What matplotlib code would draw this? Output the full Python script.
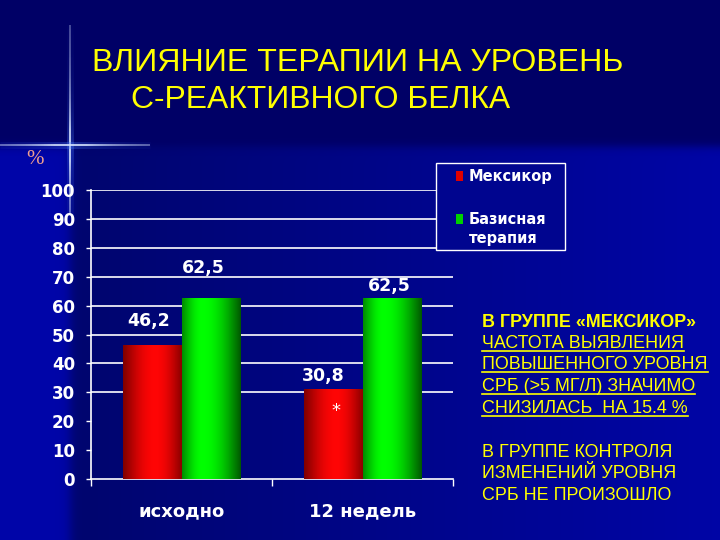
import numpy as np
import matplotlib
matplotlib.use("Agg")
import matplotlib.pyplot as plt
from matplotlib.patches import Rectangle
from matplotlib.collections import LineCollection

# data
categories = ["исходно", "12 недель"]
mexicor = [46.2, 30.8]
basic = [62.5, 62.5]
series_names = ["Мексикор", "Базисная\nтерапия"]
value_labels = [["46,2", "30,8"], ["62,5", "62,5"]]
y_ticks = list(range(0, 101, 10))
grid_values = list(range(30, 101, 10))
star_pos = (0.854, 23.5)

title_lines = ["ВЛИЯНИЕ ТЕРАПИИ НА УРОВЕНЬ", "С-РЕАКТИВНОГО БЕЛКА"]
note_lines = ["В ГРУППЕ «МЕКСИКОР»", "ЧАСТОТА ВЫЯВЛЕНИЯ", "ПОВЫШЕННОГО УРОВНЯ",
              "СРБ (>5 МГ/Л) ЗНАЧИМО", "СНИЗИЛАСЬ  НА 15.4 %", "",
              "В ГРУППЕ КОНТРОЛЯ", "ИЗМЕНЕНИЙ УРОВНЯ", "СРБ НЕ ПРОИЗОШЛО"]

W, H = 720, 540
fig = plt.figure(figsize=(7.2, 5.4), dpi=100)

# ---- background of the slide ----
xx = np.arange(W)[None, :].repeat(H, 0).astype(float)
yy = np.arange(H)[:, None].repeat(W, 1).astype(float)
low = 1 / (1 + np.exp(-(yy - 146) / 2.5))
left = 1 / (1 + np.exp((xx - 70) / 3.0))
b_low = 0.43 + 0.22 * np.clip((xx - 70) / 650, 0, 1)
b_low = b_low * (1 - left) + 0.66 * left
b = 0.40 * (1 - low) + b_low * low
g = 0.02 * low
img = np.dstack([np.zeros_like(b), g, b])

bg = fig.add_axes([0, 0, 1, 1])
bg.imshow(img, extent=[0, W, H, 0], aspect="auto", interpolation="bilinear")
bg.set_xlim(0, W)
bg.set_ylim(H, 0)
bg.axis("off")

# cross-shaped glow
def glow_line(ax, p0, p1, center, spread):
    t = np.linspace(0, 1, 200)
    px = p0[0] + (p1[0] - p0[0]) * t
    py = p0[1] + (p1[1] - p0[1]) * t
    d = np.hypot(px - center[0], py - center[1])
    a = np.exp(-d / spread)
    pts = np.column_stack([px, py]).reshape(-1, 1, 2)
    segs = np.concatenate([pts[:-1], pts[1:]], axis=1)
    wide = LineCollection(segs, colors=[(0.3, 0.5, 1.0, 0.35 * v) for v in a[:-1]], linewidths=5)
    core = LineCollection(segs, colors=[(0.85, 0.9, 1.0, min(1, 0.3 + v)) for v in a[:-1]], linewidths=1.2)
    ax.add_collection(wide)
    ax.add_collection(core)

glow_line(bg, (70, 25), (70, 215), (70, 145), 45)
glow_line(bg, (0, 145), (150, 145), (70, 145), 45)

# ---- chart ----
ax = fig.add_axes([91 / W, 1 - 479 / H, 362 / W, 289 / H])
ax.set_facecolor("none")

x = np.arange(len(categories))
w = 0.325


def gradient_bar(ax, x0, width, height, dark_l, bright, dark_r, peak):
    t = np.linspace(0, 1, 64)
    prof = np.where(t < peak, np.sin(t / peak * np.pi / 2), np.cos((t - peak) / (1 - peak) * np.pi / 2))
    cols = np.empty((1, 64, 3))
    for i in range(64):
        end = dark_l if t[i] < peak else dark_r
        cols[0, i] = np.array(end) + (np.array(bright) - np.array(end)) * prof[i]
    ax.imshow(cols, extent=[x0, x0 + width, 0, height], aspect="auto", zorder=3,
              interpolation="bilinear")


bars_m = ax.bar(x - w / 2, mexicor, w, color="none", zorder=3)
bars_b = ax.bar(x + w / 2, basic, w, color="none", zorder=3)
for r in bars_m:
    gradient_bar(ax, r.get_x(), r.get_width(), r.get_height(),
                 (0.50, 0.0, 0.0), (1.0, 0.02, 0.02), (0.55, 0.0, 0.0), 0.55)
for r in bars_b:
    gradient_bar(ax, r.get_x(), r.get_width(), r.get_height(),
                 (0.0, 0.55, 0.0), (0.0, 1.0, 0.0), (0.0, 0.35, 0.0), 0.35)

ax.hlines(grid_values, -0.5, 1.5, colors="white", linewidth=1.2, zorder=1)

ax.set_xlim(-0.5, 1.5)
ax.set_ylim(0, 100)
ax.set_yticks(y_ticks)
ax.set_yticklabels([str(v) for v in y_ticks])
ax.tick_params(axis="y", colors="white", length=3.6, width=1, pad=8, labelsize=12)
for lab in ax.get_yticklabels():
    lab.set_fontweight("bold")
ax.set_xticks([-0.5, 0.5, 1.5])
ax.set_xticklabels(["", "", ""])
ax.tick_params(axis="x", which="major", colors="white", length=5, width=1)
ax.set_xticks(x, categories, minor=True)
ax.tick_params(axis="x", which="minor", length=0, pad=17, labelsize=13, labelcolor="white")
for lab in ax.get_xticklabels(minor=True):
    lab.set_fontweight("bold")
for s in ["top", "right"]:
    ax.spines[s].set_visible(False)
for s in ["left", "bottom"]:
    ax.spines[s].set_color("white")
    ax.spines[s].set_linewidth(1.2)

# value labels (hand-placed offsets in pixels, as on the slide)
offsets = [[(-3.5, 24), (-10, 14)], [(-8, 30), (-3, 12)]]
for si, bars in enumerate([bars_m, bars_b]):
    for bi, r in enumerate(bars):
        dx, dy = offsets[si][bi]
        ax.annotate(value_labels[si][bi], (r.get_x() + r.get_width() / 2, r.get_height()),
                    xytext=(dx * 0.72, dy * 0.72), textcoords="offset points",
                    ha="center", va="center", color="white", fontsize=12.5,
                    fontweight="bold", zorder=5)
ax.text(star_pos[0], star_pos[1], "*", color="white", fontsize=13, ha="center",
        va="center", zorder=5)

# ---- overlay: title, legend, notes ----
top = fig.add_axes([0, 0, 1, 1], zorder=5)
top.set_facecolor("none")
top.set_xlim(0, W)
top.set_ylim(H, 0)
top.axis("off")

t1 = top.text(92, 63, title_lines[0], color="#ffff00", fontsize=27, family="Liberation Sans",
              ha="left", va="center")
t2 = top.text(131, 100, title_lines[1], color="#ffff00", fontsize=27, family="Liberation Sans",
              ha="left", va="center")
top.text(35, 160, "%", color="#f0a090", fontsize=15, family="Liberation Serif", ha="center", va="center")

top.add_patch(Rectangle((436, 163), 129, 87, facecolor=(0, 0.02, 0.56), edgecolor="white", lw=1))
top.add_patch(Rectangle((456, 171), 7, 10, facecolor="#e00000", edgecolor="none"))
top.add_patch(Rectangle((456, 214), 7, 10, facecolor="#00d000", edgecolor="none"))
top.text(469, 176, series_names[0], color="white", fontsize=10.5, fontweight="bold", va="center")
top.text(469, 229, series_names[1], color="white", fontsize=10.5, fontweight="bold", va="center",
         linespacing=1.3)

baselines = [327, 348, 369, 391, 413, 0, 457, 478, 500]
note_texts = []
for i, line in enumerate(note_lines):
    if not line:
        continue
    t = top.text(482, baselines[i], line, color="#ffff00", fontsize=12.9,
                 family="Liberation Sans", fontweight="bold" if i == 0 else "normal",
                 ha="left", va="baseline")
    note_texts.append((i, t))

# shrink the title lines to the widths they have on the slide
fig.canvas.draw()
for t, target in [(t1, 532), (t2, 380)]:
    wpx = t.get_window_extent().width
    t.set_fontsize(t.get_fontsize() * target / wpx)

fig.canvas.draw()
inv = top.transData.inverted()
for i, t in note_texts:
    if 1 <= i <= 4:
        bb = t.get_window_extent()
        (x0, _), (x1, _) = inv.transform([(bb.x0, bb.y0), (bb.x1, bb.y1)])
        top.plot([x0, x1], [baselines[i] + 2.5, baselines[i] + 2.5], color="#ffff00", lw=1.2)

fig.savefig("out.png", dpi=100)
